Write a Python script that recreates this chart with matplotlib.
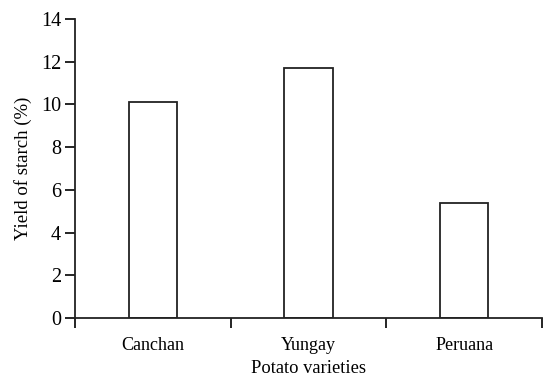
import matplotlib; matplotlib.use("Agg")
import matplotlib.pyplot as plt

varieties = ["Canchan", "Yungay", "Peruana"]
starch_yield = [10.1, 11.7, 5.4]
y_ticks = [0, 2, 4, 6, 8, 10, 12, 14]

plt.rcParams["font.family"] = ["Liberation Serif", "DejaVu Serif"]
fig = plt.figure(figsize=(5.43, 3.79), dpi=100)
ax = fig.add_axes([0.138, 0.161, 0.860, 0.789])

x = range(len(varieties))
ax.bar(x, starch_yield, width=0.31, color="white", edgecolor="#222222", linewidth=1.3)

ax.set_xlim(-0.5, len(varieties) - 0.5)
ax.set_ylim(0, 14)
ax.set_yticks(y_ticks)
ax.set_xticks([i - 0.5 for i in range(len(varieties) + 1)])
ax.set_xticklabels([])
ax.set_xticks(list(x), minor=True)
ax.set_xticklabels(varieties, minor=True, fontsize=13)
ax.tick_params(axis="x", which="minor", length=0, pad=14)
ax.tick_params(axis="x", which="major", direction="out", length=7, width=1.2)
ax.tick_params(axis="y", direction="out", length=7, width=1.2, labelsize=14.5, pad=3)

for s in ("top", "right"):
    ax.spines[s].set_visible(False)
for s in ("left", "bottom"):
    ax.spines[s].set_linewidth(1.3)
    ax.spines[s].set_color("#222222")

ax.set_xlabel("Potato varieties", fontsize=13.3, labelpad=4)
ax.set_ylabel("Yield of starch (%)", fontsize=13.5, labelpad=6)

fig.savefig("out.png", dpi=100)
